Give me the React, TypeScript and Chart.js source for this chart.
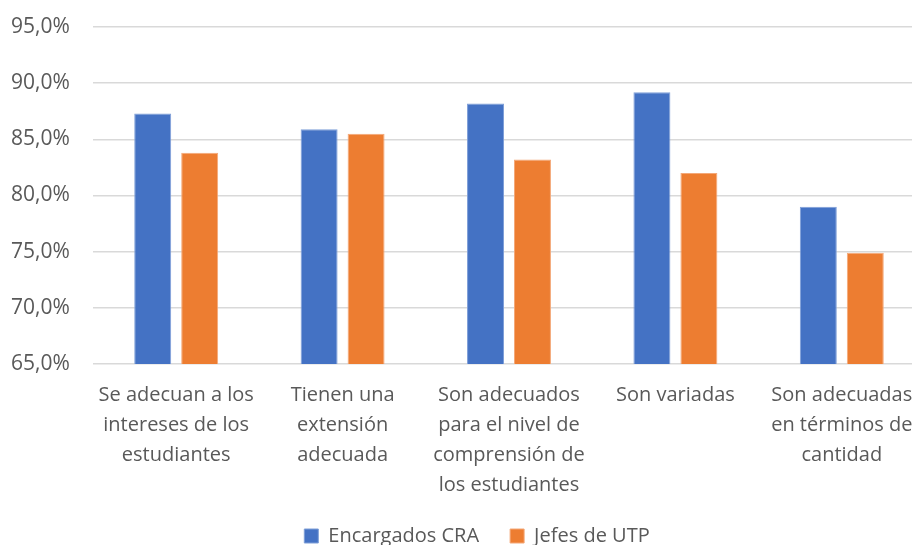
import React, { useEffect, useRef } from "react";
import { Chart, registerables } from "chart.js";

Chart.register(...registerables);

const categories: string[][] = [
  ["Se adecuan a los", "intereses de los", "estudiantes"],
  ["Tienen una", "extensión", "adecuada"],
  ["Son adecuados", "para el nivel de", "comprensión de", "los estudiantes"],
  ["Son variadas"],
  ["Son adecuadas", "en términos de", "cantidad"],
];
const encargadosCRA: number[] = [87.3, 85.9, 88.2, 89.2, 79.0];
const jefesUTP: number[] = [83.8, 85.5, 83.2, 82.0, 74.9];
const yMin = 65;
const yMax = 95;
const yStep = 5;

const FONT = "'Open Sans', 'Noto Sans', sans-serif";
const TEXT = "#595959";

const legendShift = {
  id: "legendShift",
  afterLayout(chart: any) {
    const l = chart.legend;
    if (l) {
      l.left += 9;
      l.right += 9;
    }
  },
};

export default function App() {
  const ref = useRef<HTMLCanvasElement | null>(null);
  useEffect(() => {
    if (!ref.current) return;
    const chart = new Chart(ref.current, {
      type: "bar",
      data: {
        labels: categories,
        datasets: [
          {
            label: "Encargados CRA",
            data: encargadosCRA,
            backgroundColor: "#4472C4",
            borderColor: "#7F9FD8",
            borderWidth: 1,
            categoryPercentage: 0.5646,
            barPercentage: 0.787,
          },
          {
            label: "Jefes de UTP",
            data: jefesUTP,
            backgroundColor: "#ED7D31",
            borderColor: "#F4A878",
            borderWidth: 1,
            categoryPercentage: 0.5646,
            barPercentage: 0.787,
          },
        ],
      },
      plugins: [legendShift],
      options: {
        responsive: false,
        animation: false,
        devicePixelRatio: 1,
        layout: { padding: { top: 27, right: 35, left: 11, bottom: 20 } },
        plugins: {
          tooltip: { enabled: false },
          legend: {
            position: "bottom",
            labels: {
              boxWidth: 14,
              boxHeight: 14,
              color: TEXT,
              font: { family: FONT, size: 20 },
              padding: 31,
            },
          },
        },
        scales: {
          x: {
            grid: { display: false },
            border: { display: false },
            ticks: {
              color: TEXT,
              font: { family: FONT, size: 20, lineHeight: "30px" },
              padding: 8,
              maxRotation: 0,
              autoSkip: false,
            },
            afterFit: (s: any) => {
              s.height = 131;
            },
          },
          y: {
            min: yMin,
            max: yMax,
            border: { display: false },
            grid: { color: "#D9D9D9", lineWidth: 1.5, drawTicks: false },
            ticks: {
              stepSize: yStep,
              color: TEXT,
              padding: 0,
              crossAlign: "far",
              font: { family: FONT, size: 21 },
              callback: (v: any) => Number(v).toFixed(1).replace(".", ",") + "%",
            },
            afterFit: (s: any) => {
              s.width = 82;
            },
          },
        },
      },
    });
    return () => chart.destroy();
  }, []);
  return (
    <div
      style={{
        position: "fixed",
        left: 0,
        top: 0,
        width: 912,
        height: 545,
        overflow: "hidden",
        background: "#fff",
      }}
    >
      <canvas ref={ref} width={960} height={576} style={{ display: "block" }} />
    </div>
  );
}
